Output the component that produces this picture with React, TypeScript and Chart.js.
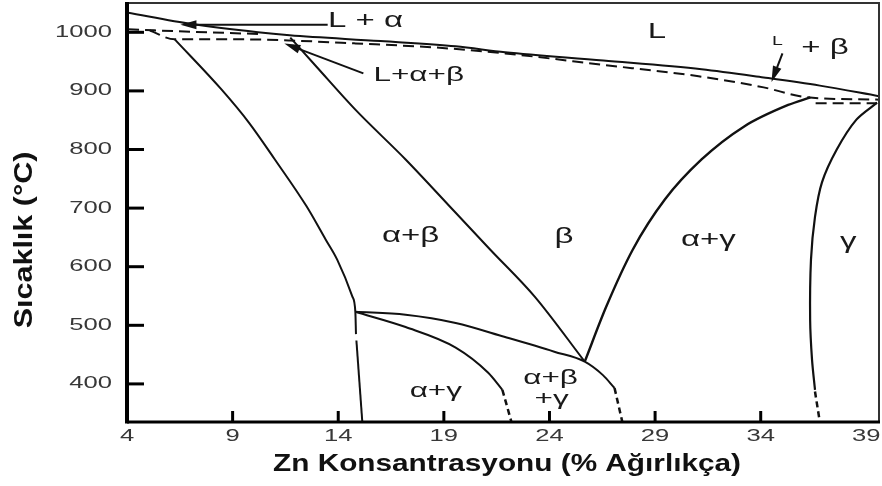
import React, { useEffect, useRef } from "react";
import { Chart, registerables } from "chart.js";

Chart.register(...registerables);

// Cu–Zn phase diagram: Zn content (wt %) against temperature (°C)
const xTicks = [4, 9, 14, 19, 24, 29, 34, 39];
const yTicks = [400, 500, 600, 700, 800, 900, 1000];

type Pt = [number, number];

// liquidus
const liquidus: Pt[] = [
  [4, 1034], [7.1, 1014], [10.2, 1000], [11.7, 995], [16.0, 985], [19.56, 976],
  [21.9, 966], [26.55, 952], [31.2, 937], [34.14, 923], [36.8, 909], [39.6, 891],
];
// α solidus (dashed)
const alphaSolidus: Pt[] = [[4.05, 1005], [7.8, 1000], [10.4, 997]];
// L+α+β horizontal and β solidus (dashed)
const betaSolidus: Pt[] = [
  [5.08, 1003], [6.26, 988], [9.32, 988], [11.73, 986], [14.81, 981], [18.62, 974],
  [21.9, 964], [26.4, 945], [31.06, 925], [34.14, 906], [36.2, 889], [39.6, 885],
];
// γ solidus (dashed)
const gammaSolidus: Pt[] = [[36.6, 879], [39.5, 879]];
// α / α+β boundary
const alphaSolvus: Pt[] = [
  [6.26, 988], [8.46, 903], [9.77, 846], [11.0, 783], [12.5, 703], [13.41, 646],
  [13.95, 612], [14.67, 549], [14.81, 523], [14.84, 485],
];
const alphaSolvusLow: Pt[] = [[14.86, 474], [15.14, 335]];
// α+β / β boundary
const betaLeft: Pt[] = [
  [11.73, 991], [12.95, 942], [14.81, 868], [17.19, 783], [19.56, 692],
  [21.2, 629], [23.3, 549], [25.67, 438],
];
// β / α+γ boundary
const betaRight: Pt[] = [
  [25.67, 438], [26.69, 532], [27.94, 629], [29.47, 715], [31.2, 783],
  [33.2, 839], [35.3, 876], [36.35, 889],
];
// α+γ / γ boundary
const gammaBoundary: Pt[] = [
  [39.51, 880], [38.53, 851], [37.6, 800], [36.9, 744], [36.57, 685],
  [36.38, 612], [36.34, 509], [36.43, 441], [36.57, 390],
];
const gammaBoundaryEnd: Pt[] = [[36.57, 387], [36.8, 335]];
// α+β+γ upper boundary
const threePhaseUpper: Pt[] = [
  [14.81, 523], [17.19, 518], [19.56, 504], [21.9, 480], [24.23, 455],
  [25.67, 438], [26.53, 415], [27.08, 393],
];
const threePhaseUpperEnd: Pt[] = [[27.08, 393], [27.45, 335]];
// α / α+γ boundary
const alphaGamma: Pt[] = [[14.81, 523], [17.19, 497], [19.56, 462], [21.1, 419], [21.77, 390]];
const alphaGammaEnd: Pt[] = [[21.77, 390], [22.2, 335]];

// Phase field names: [text, Zn, T, font size]
const phaseLabels: [string, number, number, number][] = [
  ["L + α", 15.29, 1019, 22],
  ["L+α+β", 17.81, 926, 21],
  ["L", 29.09, 1000, 22],
  ["L", 34.79, 985, 13],
  ["+ β", 37.04, 974, 22],
  ["α+β", 17.43, 653, 22],
  ["β", 24.69, 650, 22],
  ["α+γ", 31.52, 646, 22],
  ["γ", 38.14, 643, 22],
  ["α+γ", 18.62, 388, 21],
  ["α+β", 24.05, 410, 21],
  ["+γ", 24.1, 374, 21],
];

// Leader arrows: [tail Zn, tail T, tip Zn, tip T]
const arrows: [number, number, number, number][] = [
  [13.5, 1013, 6.53, 1013],
  [15.19, 930, 11.45, 981],
  [35.03, 964, 34.51, 915],
];

const FONT = "'Liberation Sans', Arial, sans-serif";

function stretchedText(
  ctx: CanvasRenderingContext2D,
  text: string,
  x: number,
  y: number,
  font: string,
  sx: number,
  align: CanvasTextAlign,
  color: string,
  rot = 0
) {
  ctx.save();
  ctx.font = font;
  ctx.fillStyle = color;
  ctx.textAlign = align;
  ctx.textBaseline = "middle";
  ctx.translate(x, y);
  if (rot) ctx.rotate(rot);
  ctx.scale(sx, 1);
  ctx.fillText(text, 0, 0);
  ctx.restore();
}

function drawArrow(ctx: CanvasRenderingContext2D, x0: number, y0: number, x1: number, y1: number) {
  const a = Math.atan2(y1 - y0, x1 - x0);
  const len = 16;
  const hw = 4.5;
  const c = Math.cos(a);
  const s = Math.sin(a);
  ctx.beginPath();
  ctx.moveTo(x0, y0);
  ctx.lineTo(x1 - c * len * 0.6, y1 - s * len * 0.6);
  ctx.stroke();
  ctx.beginPath();
  ctx.moveTo(x1, y1);
  ctx.lineTo(x1 - c * len + s * hw, y1 - s * len - c * hw);
  ctx.lineTo(x1 - c * len - s * hw, y1 - s * len + c * hw);
  ctx.closePath();
  ctx.fill();
}

const diagramPlugin = {
  id: "diagramDecor",
  afterDatasetsDraw(chart: any) {
    const ctx: CanvasRenderingContext2D = chart.ctx;
    const xs = chart.scales.x;
    const ys = chart.scales.y;
    const { left, right, top, bottom } = chart.chartArea;

    ctx.save();
    // frame
    ctx.strokeStyle = "#333";
    ctx.lineWidth = 2;
    ctx.beginPath();
    ctx.moveTo(left, top);
    ctx.lineTo(right, top);
    ctx.lineTo(right, bottom);
    ctx.stroke();
    ctx.strokeStyle = "#000";
    ctx.lineWidth = 4;
    ctx.beginPath();
    ctx.moveTo(left, top - 1);
    ctx.lineTo(left, bottom + 1.5);
    ctx.stroke();
    ctx.lineWidth = 3;
    ctx.beginPath();
    ctx.moveTo(left, bottom);
    ctx.lineTo(right + 1, bottom);
    ctx.stroke();

    // inward tick marks
    ctx.lineWidth = 3;
    yTicks.forEach((v) => {
      const y = ys.getPixelForValue(v);
      ctx.beginPath();
      ctx.moveTo(left, y);
      ctx.lineTo(left + 17, y);
      ctx.stroke();
    });
    xTicks.slice(1, -1).forEach((v) => {
      const x = xs.getPixelForValue(v);
      ctx.beginPath();
      ctx.moveTo(x, bottom);
      ctx.lineTo(x, bottom - 11);
      ctx.stroke();
    });

    // tick labels
    yTicks.forEach((v) => {
      stretchedText(ctx, String(v), 112, ys.getPixelForValue(v), `16px ${FONT}`, 1.6, "right", "#383838");
    });
    xTicks.forEach((v) => {
      stretchedText(ctx, String(v), xs.getPixelForValue(v), bottom + 15, `16px ${FONT}`, 1.6, "center", "#383838");
    });

    // axis titles
    stretchedText(ctx, "Zn Konsantrasyonu (% Ağırlıkça)", 507, 464, `bold 24px ${FONT}`, 1.24, "center", "#111");
    stretchedText(ctx, "Sıcaklık (°C)", 25, 240, `bold 25px ${FONT}`, 1.22, "center", "#111", -Math.PI / 2);

    // phase field names
    phaseLabels.forEach(([t, zn, temp, size]) => {
      stretchedText(ctx, t, xs.getPixelForValue(zn), ys.getPixelForValue(temp), `${size}px ${FONT}`, 1.5, "center", "#1a1a1a");
    });

    // leader arrows
    ctx.strokeStyle = "#111";
    ctx.fillStyle = "#111";
    ctx.lineWidth = 2;
    arrows.forEach(([x0, t0, x1, t1]) => {
      drawArrow(ctx, xs.getPixelForValue(x0), ys.getPixelForValue(t0), xs.getPixelForValue(x1), ys.getPixelForValue(t1));
    });
    ctx.restore();
  },
};

const curve = (pts: Pt[], width = 2) => ({
  data: pts.map(([x, y]) => ({ x, y })),
  showLine: true,
  borderColor: "#111",
  borderWidth: width,
  pointRadius: 0,
  cubicInterpolationMode: "monotone",
  fill: false,
});
const bent = (pts: Pt[], width = 2) => ({
  ...curve(pts, width),
  cubicInterpolationMode: "default",
  tension: 0.3,
});
const dashed = (pts: Pt[], dash: number[] = [11, 6], width = 2) => ({
  ...curve(pts, width),
  borderDash: dash,
});

export default function App() {
  const ref = useRef<HTMLCanvasElement>(null);
  useEffect(() => {
    if (!ref.current) return;
    const chart = new Chart(ref.current, {
      type: "scatter",
      data: {
        datasets: [
          curve(liquidus),
          dashed(alphaSolidus),
          dashed(betaSolidus),
          dashed(gammaSolidus),
          curve(alphaSolvus),
          curve(alphaSolvusLow),
          curve(betaLeft),
          curve(betaRight, 2.4),
          bent(gammaBoundary, 2.2),
          dashed(gammaBoundaryEnd, [6, 4], 2.5),
          curve(threePhaseUpper),
          dashed(threePhaseUpperEnd, [6, 4], 2.5),
          curve(alphaGamma),
          dashed(alphaGammaEnd, [6, 4], 2.5),
        ] as any,
      },
      options: {
        responsive: false,
        animation: false,
        devicePixelRatio: 1,
        layout: { padding: { left: 127, top: 3, right: 3, bottom: 64 } },
        scales: {
          x: { type: "linear", min: 4, max: 39.6, display: false },
          y: { type: "linear", min: 335, max: 1050, display: false },
        },
        plugins: { legend: { display: false }, tooltip: { enabled: false } },
      },
      plugins: [diagramPlugin],
    });
    return () => chart.destroy();
  }, []);
  return (
    <div style={{ position: "fixed", left: 0, top: 0, width: 882, height: 486, background: "#fff" }}>
      <canvas ref={ref} width={882} height={486} style={{ width: 882, height: 486, display: "block" }} />
    </div>
  );
}
